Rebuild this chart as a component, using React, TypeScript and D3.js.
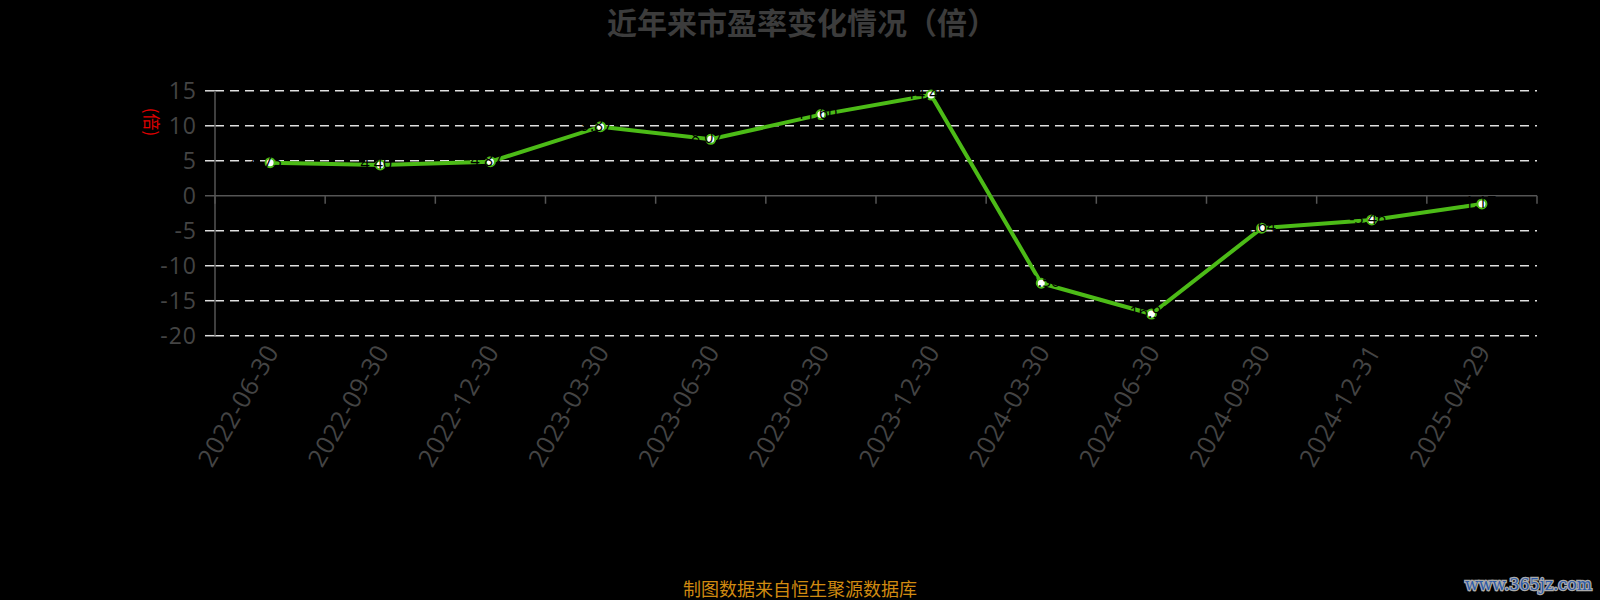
import React from "react";
import * as d3 from "d3";

const categories = [
  "2022-06-30", "2022-09-30", "2022-12-30", "2023-03-30", "2023-06-30", "2023-09-30",
  "2023-12-30", "2024-03-30", "2024-06-30", "2024-09-30", "2024-12-31", "2025-04-29",
];
const peValues = [4.73, 4.4, 4.87, 9.87, 8.07, 11.6, 14.4, -12.5, -16.9, -4.64, -3.46, -1.17];
const yTicks = [15, 10, 5, 0, -5, -10, -15, -20];

const W = 1600;
const H = 600;
const left = 215;
const right = 1537;
const top = 90.8;
const bottom = 335.7;

export default function App() {
  const x = d3.scaleBand<string>().domain(categories).range([left, right]).padding(0);
  const y = d3.scaleLinear().domain([-20, 15]).range([bottom, top]);
  const line = d3
    .line<number>()
    .x((_, i) => (x(categories[i]) as number) + x.bandwidth() / 2)
    .y((d) => y(d));
  const font = "'Open Sans', 'Noto Sans CJK SC', sans-serif";
  const boundaries = categories.map((c) => x(c) as number).concat([right]);

  return (
    <svg
      width={W}
      height={H}
      style={{ position: "absolute", left: 0, top: 0, background: "#000", display: "block" }}
    >
      <rect x={0} y={0} width={W} height={H} fill="#000" />
      <text
        x={802}
        y={34}
        textAnchor="middle"
        fontFamily="'Noto Sans CJK SC', sans-serif"
        fontWeight="bold"
        fontSize={30}
        fill="#3c3c3c"
      >
        近年来市盈率变化情况（倍）
      </text>

      {/* grid lines */}
      {yTicks
        .filter((t) => t !== 0)
        .map((t) => (
          <line
            key={"g" + t}
            x1={left}
            x2={right}
            y1={y(t)}
            y2={y(t)}
            stroke="#e0e0e0"
            strokeWidth={1.5}
            strokeDasharray="9,6"
          />
        ))}
      {/* y ticks */}
      {yTicks.map((t) => (
        <g key={"t" + t}>
          <line x1={205} x2={left} y1={y(t)} y2={y(t)} stroke={t === 0 ? "#555" : "#ddd"} strokeWidth={1.5} />
          <text
            x={197}
            y={y(t)}
            dy="0.35em"
            textAnchor="end"
            fontFamily={font}
            fontSize={23}
            letterSpacing={1}
            fill="#444"
          >
            {t}
          </text>
        </g>
      ))}
      <line x1={left} x2={left} y1={top} y2={bottom} stroke="#555" strokeWidth={1.5} />
      {/* x axis at zero */}
      <line x1={left} x2={right} y1={y(0)} y2={y(0)} stroke="#555" strokeWidth={1.5} />
      {boundaries.map((b, i) => (
        <line key={"xb" + i} x1={b} x2={b} y1={y(0)} y2={y(0) + 8} stroke="#555" strokeWidth={1.5} />
      ))}
      {/* y axis name */}
      <text
        transform={`translate(151,122) rotate(90)`}
        textAnchor="middle"
        dy="0.35em"
        fontFamily="'Noto Sans CJK SC', sans-serif"
        fontSize={17}
        fill="#e00000"
      >
        (倍)
      </text>

      {/* x labels */}
      {categories.map((c) => {
        const cx = (x(c) as number) + x.bandwidth() / 2;
        return (
          <text
            key={"xl" + c}
            transform={`translate(${cx + 2},${347}) rotate(-60)`}
            textAnchor="end"
            dy="0.35em"
            fontFamily={font}
            fontSize={25}
            letterSpacing={0.5}
            fill="#444"
          >
            {c}
          </text>
        );
      })}

      {/* line */}
      <path d={line(peValues) || ""} fill="none" stroke="#4cbb17" strokeWidth={4} />
      {peValues.map((v, i) => {
        const cx = (x(categories[i]) as number) + x.bandwidth() / 2;
        return (
          <g key={"p" + i}>
            <circle cx={cx} cy={y(v)} r={4.5} fill="#fff" stroke="#4cbb17" strokeWidth={2} />
            <text
              x={cx - 4}
              y={y(v) + 4}
              textAnchor="middle"
              fontFamily={font}
              fontSize={16}
              fill="#000"
            >
              {v.toFixed(2)}
            </text>
          </g>
        );
      })}

      {/* footer */}
      <text
        x={800}
        y={596}
        textAnchor="middle"
        fontFamily="'Noto Sans CJK SC', sans-serif"
        fontSize={18}
        fill="#d08a10"
      >
        制图数据来自恒生聚源数据库
      </text>
      <text
        x={1592}
        y={590}
        textAnchor="end"
        fontFamily="'DejaVu Serif', serif"
        fontSize={16}
        fill="#2d5ba8"
        stroke="#aaa"
        strokeWidth={2.5}
        paintOrder="stroke"
      >
        www.365jz.com
      </text>
    </svg>
  );
}
